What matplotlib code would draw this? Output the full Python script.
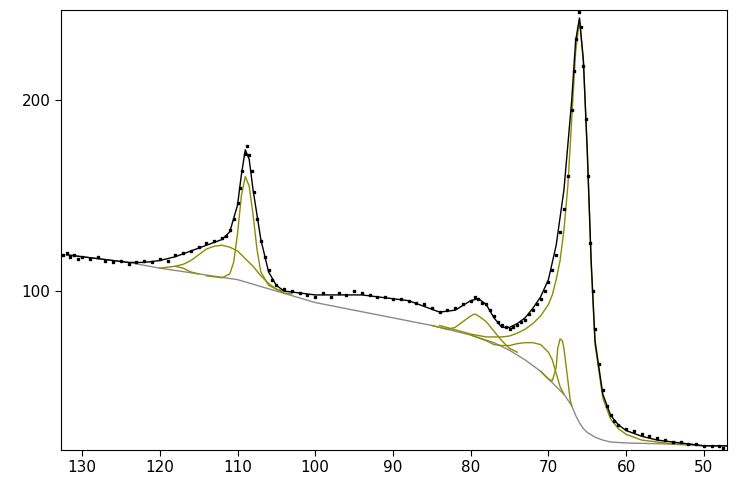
import matplotlib
matplotlib.use("Agg")
import matplotlib.pyplot as plt
import numpy as np

# envelope (fit sum)
env_x = [132,130,128,126,124,122,120,118,116,114,112,111,110,109.5,109,108.5,108,107,106,105,104,102,100,98,96,94,92,90,88,86,84,82,80,79,78,77,76,75,74,73,72,71,70,69,68,67,66.5,66,65.5,65,64.5,64,63,62,61,60,58,56,54,52,50,48,47]
env_y = [119,118,117,116,115,115,116,118,121,124,127,131,145,161,174,169,153,127,110,103,100,99,98,98,98,98,97,96,95,92,89,90,95,96,93,86,81,81,83,86,91,97,106,124,153,200,231,243,221,174,116,74,46,35,30,27,24,22,21,20,19,19,19]
# measured spectrum
data_x = [132.5,132,131.5,131,130.5,130,129,128,127,126,125,124,123,122,121,120,119,118,117,116,115,114,113,112,111.5,111,110.5,110,109.7,109.4,109.1,108.8,108.5,108.2,107.9,107.5,107,106.5,106,105.5,105,104,103,102,101,100,99,98,97,96,95,94,93,92,91,90,89,88,87,86,85,84,83,82,81,80,79.5,79,78.5,78,77.5,77,76.5,76,75.5,75,74.5,74,73.5,73,72.5,72,71.5,71,70.5,70,69.5,69,68.5,68,67.5,67,66.7,66.4,66.1,65.8,65.5,65.2,64.9,64.6,64.3,64,63.5,63,62.5,62,61.5,61,60,59,58,57,56,55,54,53,52,51,50,49,48,47.5]
data_y = [119,120,118,119,117,118,
          117,118,116,115,116,114,115,116,115,117,116,119,120,121,123,125,126,128,
          129,132,138,146,
          154,163,172,176,171,163,152,138,126,118,111,106,103,
          101,100,99,98,97,99,97,99,98,100,99,98,97,97,96,96,95,94,93,91,89,90,91,93,95,
          97,96,94,93,90,87,84,82,81,80,81,82,84,85,88,90,93,96,100,105,111,119,131,143,160,195,
          215,232,246,238,218,190,160,125,100,80,
          62,48,40,35,32,30,
          28,27,25,24,23,22,21,21,20,20,19,19,19,
          18]

# background
bg_x = [132,124,120,115,110,105,100,95,90,85,80,77,75,73,72,71,70,69,68,67.5,67,66.5,66,65.5,65,64,63,62,60,55,50,47]
bg_y = [119,115,112,109,106,100,94,90,86,82,77,73,69,64,61,58,54,50,46,43,40,35,31,28,26,23.5,22,21,20.5,20,19,19]

# fit components (background + peak)
c1_x = [120,119,118,117,116,115]
c1_y = [112,112.5,113,112,110,109]
c2_x = [118,117,116,115,114,113,112,111,110,109,108,107,106,105,104,103]
c2_y = [113,114,116,119,122,123.5,124,123,121,117,113,108,104,101,99,98.5]
c3_x = [114,112,111,110.5,110,109.5,109,108.5,108,107.5,107,106,105,104]
c3_y = [108,107,109,115,130,150,160,155,140,122,110,103,101,100]
c4_x = [85,84,83,82,81,80,79.5,79,78,77,76,75,74]
c4_y = [82,81,80,81,84,87,88,87,84,79,74,70,68]
c5_x = [80,78,77,76,75,74,73,72,71,70,69.5,69,68.5,68]
c5_y = [77,74,72,71.5,71.5,72.5,73,73,72,68,64,57,50,46]
c6_x = [71,70,69.5,69,68.8,68.5,68.2,68,67.7,67.4,67.2,67]
c6_y = [58,54,53,60,70,75,74,70,60,50,43,40]
c7_x = [84,80,78,76,75,74,73,72,71,70,69.5,69,68.5,68,67.5,67,66.5,66,65.5,65,64.5,64,63,62,61,60,58,56,54,52,50,48,47]
c7_y = [82,77.5,76,76,76.5,78,80,83,87,93,98,106,116,132,155,190,225,242,220,172,114,72,44,33,28,25,22,21,20,20,19,19,19]

olive = "#8c8c00"
fig = plt.figure(figsize=(7.36, 4.79), dpi=100)
ax = fig.add_axes([0.083, 0.0605, 0.905, 0.918])
ax.plot(bg_x, bg_y, color="#8a8a8a", lw=1)
for cx, cy in [(c1_x, c1_y), (c2_x, c2_y), (c3_x, c3_y), (c4_x, c4_y), (c5_x, c5_y), (c6_x, c6_y), (c7_x, c7_y)]:
    ax.plot(cx, cy, color=olive, lw=1)
ax.plot(env_x, env_y, color="black", lw=1)
ax.plot(data_x, data_y, ls="none", marker="s", ms=1.6, color="black")
ax.set_xlim(132.7, 47.0)
ax.set_ylim(16.8, 247)
ax.set_xticks([130, 120, 110, 100, 90, 80, 70, 60, 50])
ax.set_yticks([100, 200])
ax.tick_params(labelsize=11, length=4)
fig.savefig("out.png", dpi=100)
